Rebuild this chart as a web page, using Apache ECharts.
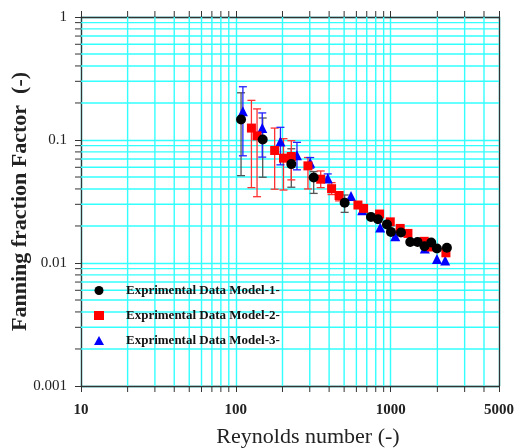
<!DOCTYPE html>
<html>
<head>
<meta charset="utf-8">
<script src="https://cdn.jsdelivr.net/npm/echarts@6/dist/echarts.min.js"></script>
<style>
html, body { margin: 0; padding: 0; background: #fff; }
#chart { width: 514px; height: 448px; }
</style>
</head>
<body>
<div id="chart"></div>
<script>
// Model-1 (black circles)
var re1 = [108, 149, 228, 318, 504, 745, 827, 945, 1003, 1164, 1336, 1489, 1652, 1825, 1987, 2305];
var f1  = [0.147, 0.101, 0.0637, 0.0495, 0.0309, 0.0237, 0.0227, 0.0206, 0.0179, 0.0177, 0.0148, 0.0148, 0.0137, 0.0147, 0.0131, 0.0133];
var lo1 = [0.0513, 0.0498, 0.0413, 0.0368, 0.0258];
var hi1 = [0.242, 0.151, 0.0849, 0.0554, 0.0357];

// Model-2 (red squares)
var re2 = [126, 137, 178, 203, 228, 292, 353, 415, 464, 614, 668, 847, 993, 1151, 1291, 1645, 1825, 2271];
var f2  = [0.125, 0.108, 0.0822, 0.0712, 0.0734, 0.0616, 0.048, 0.0402, 0.0354, 0.0296, 0.0278, 0.025, 0.0216, 0.0191, 0.0174, 0.0150, 0.0135, 0.0121];
var lo2 = [0.041, 0.0346, 0.0398, 0.0392, 0.0474, 0.040, 0.041, 0.036, 0.032];
var hi2 = [0.21, 0.179, 0.125, 0.1025, 0.0987, 0.072, 0.056, 0.045, 0.038];

// Model-3 (blue triangles)
var re3 = [111, 148, 194, 248, 302, 392, 554, 654, 855, 1069, 1660, 1987, 2247];
var f3  = [0.171, 0.125, 0.0974, 0.075, 0.0652, 0.0489, 0.035, 0.0269, 0.0194, 0.0165, 0.0131, 0.0108, 0.0105];
var lo3 = [0.0744, 0.0726, 0.0628, 0.0572, 0.059, 0.045];
var hi3 = [0.271, 0.166, 0.1268, 0.0957, 0.072, 0.053];

var names = ['Exprimental Data Model-1-', 'Exprimental Data Model-2-', 'Exprimental Data Model-3-'];

// minor grid / tick positions
var minorX = [20, 30, 40, 50, 60, 70, 80, 90, 200, 300, 400, 500, 600, 700, 800, 900, 2000, 3000, 4000];
var minorY = [0.002, 0.003, 0.004, 0.005, 0.006, 0.007, 0.008, 0.009,
              0.02, 0.03, 0.04, 0.05, 0.06, 0.07, 0.08, 0.09,
              0.2, 0.3, 0.4, 0.5, 0.6, 0.7, 0.8, 0.9];

var gridColor = '#33ffff';
var gridWidth = 1.4;
var axisColor = '#333';
var serif = '"Liberation Serif", "Times New Roman", serif';

function pts(xs, ys) {
    return xs.map(function (x, i) { return [x, ys[i]]; });
}
function bars(xs, lo, hi) {
    var out = [];
    for (var i = 0; i < lo.length; i++) out.push([xs[i], lo[i], hi[i]]);
    return out;
}

function errBar(color) {
    return function (params, api) {
        var t = api.coord([api.value(0), api.value(2)]);
        var b = api.coord([api.value(0), api.value(1)]);
        var w = 4;
        var st = { stroke: color, lineWidth: 1.3 };
        return {
            type: 'group',
            children: [
                { type: 'line', shape: { x1: t[0], y1: t[1], x2: b[0], y2: b[1] }, style: st },
                { type: 'line', shape: { x1: t[0] - w, y1: t[1], x2: t[0] + w, y2: t[1] }, style: st },
                { type: 'line', shape: { x1: b[0] - w, y1: b[1], x2: b[0] + w, y2: b[1] }, style: st }
            ]
        };
    };
}

// minor vertical grid lines + ticks on bottom and top
function xMinor(params, api) {
    var cs = params.coordSys;
    var x = api.coord([api.value(0), 0.01])[0];
    return {
        type: 'group',
        children: [
            { type: 'line', shape: { x1: x, y1: cs.y, x2: x, y2: cs.y + cs.height }, style: { stroke: gridColor, lineWidth: gridWidth } },
            { type: 'line', shape: { x1: x, y1: cs.y + cs.height, x2: x, y2: cs.y + cs.height + 6 }, style: { stroke: axisColor, lineWidth: 1 } },
            { type: 'line', shape: { x1: x, y1: cs.y, x2: x, y2: cs.y - 6 }, style: { stroke: axisColor, lineWidth: 1 } }
        ]
    };
}
// minor horizontal grid lines + ticks on the left
function yMinor(params, api) {
    var cs = params.coordSys;
    var y = api.coord([100, api.value(1)])[1];
    return {
        type: 'group',
        children: [
            { type: 'line', shape: { x1: cs.x, y1: y, x2: cs.x + cs.width, y2: y }, style: { stroke: gridColor, lineWidth: gridWidth } },
            { type: 'line', shape: { x1: cs.x - 6, y1: y, x2: cs.x, y2: y }, style: { stroke: axisColor, lineWidth: 1 } }
        ]
    };
}

var chart = echarts.init(document.getElementById('chart'));

var option = {
    backgroundColor: '#fff',
    animation: false,
    grid: { left: 81, right: 15, top: 17, bottom: 62, containLabel: false, outerBoundsMode: 'none' },
    legend: {
        orient: 'vertical',
        left: 89,
        top: 279,
        itemWidth: 10,
        itemHeight: 9,
        itemGap: 12,
        data: names,
        textStyle: { fontFamily: serif, fontWeight: 'bold', fontSize: 13, color: '#111', padding: [0, 0, 0, 17] }
    },
    xAxis: [{
        type: 'log',
        min: 10,
        max: 5000,
        logBase: 10,
        name: 'Reynolds number (-)',
        nameLocation: 'middle',
        nameGap: 40,
        nameTextStyle: { fontFamily: serif, fontSize: 22, color: '#222', padding: [0, 0, 0, 36] },
        axisLine: { lineStyle: { color: axisColor, width: 1.3 } },
        axisTick: { show: true, inside: false, length: 6, lineStyle: { color: axisColor } },
        axisLabel: {
            fontFamily: serif, fontWeight: 'bold', fontSize: 15, color: '#222', margin: 17,
            formatter: function (v) { return String(Math.round(v)); }
        },
        splitLine: { show: true, lineStyle: { color: gridColor, width: gridWidth } }
    }, {
        type: 'log',
        min: 10,
        max: 5000,
        position: 'top',
        axisLine: { lineStyle: { color: axisColor, width: 1.3 } },
        axisTick: { show: true, inside: false, length: 6, lineStyle: { color: axisColor } },
        axisLabel: { show: false },
        splitLine: { show: false }
    }],
    yAxis: [{
        type: 'log',
        min: 0.001,
        max: 1,
        logBase: 10,
        name: 'Fanning fraction Factor  (-)',
        nameLocation: 'middle',
        nameGap: 50,
        nameMoveOverlap: false,
        nameTextStyle: { fontFamily: serif, fontWeight: 'bold', fontSize: 22, color: '#222' },
        axisLine: { lineStyle: { color: axisColor, width: 1.3 } },
        axisTick: { show: true, inside: false, length: 6, lineStyle: { color: axisColor } },
        axisLabel: {
            fontFamily: serif, fontSize: 15, color: '#222', margin: 14,
            formatter: function (v) { return String(+v.toPrecision(3)); }
        },
        splitLine: { show: true, lineStyle: { color: gridColor, width: gridWidth } }
    }, {
        type: 'log',
        min: 0.001,
        max: 1,
        position: 'right',
        axisLine: { show: true, lineStyle: { color: axisColor, width: 1.3 } },
        axisTick: { show: false },
        axisLabel: { show: false },
        splitLine: { show: false }
    }],
    series: [
        { type: 'custom', silent: true, z: 1, renderItem: xMinor, data: minorX.map(function (v) { return [v, 0.01]; }) },
        { type: 'custom', silent: true, z: 1, renderItem: yMinor, data: minorY.map(function (v) { return [100, v]; }) },
        { type: 'custom', silent: true, z: 2, renderItem: errBar('#555'), encode: { x: 0, y: [1, 2] }, data: bars(re1, lo1, hi1) },
        { type: 'custom', silent: true, z: 2, renderItem: errBar('#ff3030'), encode: { x: 0, y: [1, 2] }, data: bars(re2, lo2, hi2) },
        { type: 'custom', silent: true, z: 2, renderItem: errBar('#2222ff'), encode: { x: 0, y: [1, 2] }, data: bars(re3, lo3, hi3) },
        { name: names[0], type: 'scatter', z: 5, symbol: 'circle', symbolSize: 10, itemStyle: { color: '#000', opacity: 1 }, data: pts(re1, f1) },
        { name: names[1], type: 'scatter', z: 4, symbol: 'rect', symbolSize: 9, itemStyle: { color: '#ff0000', opacity: 1 }, data: pts(re2, f2) },
        { name: names[2], type: 'scatter', z: 3, symbol: 'triangle', symbolSize: 10, itemStyle: { color: '#0000ff', opacity: 1 }, data: pts(re3, f3) }
    ]
};

chart.setOption(option);
</script>
</body>
</html>
